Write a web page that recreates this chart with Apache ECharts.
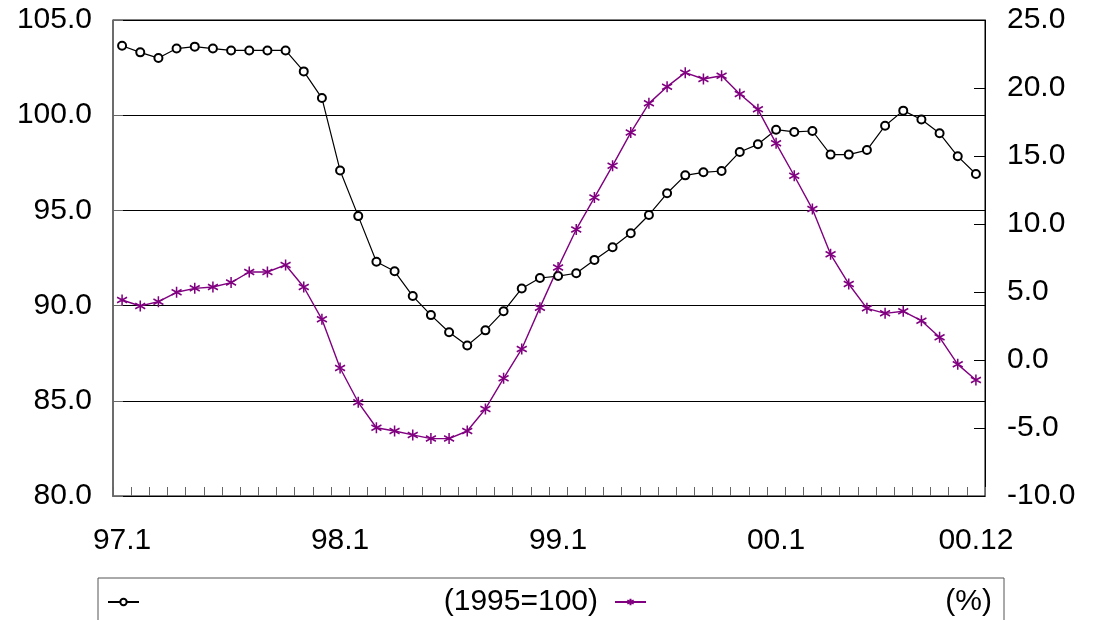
<!DOCTYPE html>
<html>
<head>
<meta charset="utf-8">
<script src="https://cdn.jsdelivr.net/npm/echarts@6/dist/echarts.min.js"></script>
<style>html,body{margin:0;padding:0;background:#fff;}#c{width:1100px;height:620px;}</style>
</head>
<body>
<div id="c"></div>
<script>
var categories = ['97.1','97.2','97.3','97.4','97.5','97.6','97.7','97.8','97.9','97.10','97.11','97.12',
  '98.1','98.2','98.3','98.4','98.5','98.6','98.7','98.8','98.9','98.10','98.11','98.12',
  '99.1','99.2','99.3','99.4','99.5','99.6','99.7','99.8','99.9','99.10','99.11','99.12',
  '00.1','00.2','00.3','00.4','00.5','00.6','00.7','00.8','00.9','00.10','00.11','00.12'];
var labeledCategories = ['97.1','98.1','99.1','00.1','00.12'];
var indexName = '(1995=100)';
var pctName = '(%)';
var indexValues = [103.65,103.3,103.0,103.5,103.6,103.5,103.4,103.4,103.4,103.4,
  102.3,100.9,97.1,94.7,92.3,91.8,90.5,89.5,88.6,87.9,
  88.7,89.7,90.9,91.45,91.55,91.7,92.4,93.06,93.8,94.76,
  95.9,96.84,97.0,97.07,98.07,98.47,99.24,99.12,99.17,97.93,
  97.93,98.17,99.45,100.24,99.77,99.05,97.84,96.91];
var pctValues = [4.41,3.97,4.29,4.98,5.27,5.37,5.69,6.47,6.47,6.99,
  5.37,2.99,-0.59,-3.11,-4.98,-5.22,-5.51,-5.78,-5.78,-5.22,
  -3.6,-1.35,0.81,3.85,6.81,9.6,11.94,14.29,16.72,18.87,
  20.1,21.13,20.66,20.9,19.56,18.43,15.93,13.55,11.1,7.77,
  5.59,3.8,3.43,3.58,2.89,1.67,-0.32,-1.47];
var leftTicks = {min: 80, max: 105, interval: 5};
var rightTicks = {min: -10, max: 25, interval: 5};

var FONT = "'Liberation Sans', Arial, sans-serif";
var FS = 30;
var PURPLE = '#800080';
var chart = echarts.init(document.getElementById('c'), null, {renderer: 'canvas'});
chart.setOption({
  animation: false,
  backgroundColor: '#fff',
  grid: {left: 113, right: 115, top: 20, bottom: 124, show: true, borderColor: '#000', borderWidth: 1, containLabel: false},
  legend: {
    left: 98, top: 578,
    padding: [9, 12, 12, 9],
    borderColor: '#555', borderWidth: 1,
    itemWidth: 31, itemHeight: 8, itemGap: 16,
    data: [indexName, pctName],
    formatter: function (n) { return (n === indexName ? '{a|' : '{b|') + n + '}'; },
    textStyle: {
      fontFamily: FONT, fontSize: FS, color: '#000',
      rich: {
        a: {width: 454, align: 'right', fontFamily: FONT, fontSize: FS, color: '#000'},
        b: {width: 341, align: 'right', fontFamily: FONT, fontSize: FS, color: '#000'}
      }
    }
  },
  xAxis: {
    type: 'category',
    data: categories,
    boundaryGap: true,
    axisLine: {show: true, onZero: false, lineStyle: {color: '#000', width: 1}},
    axisTick: {show: true, inside: true, length: 9, interval: 0, lineStyle: {color: '#666', width: 1}},
    axisLabel: {
      interval: function (i, v) { return labeledCategories.indexOf(v) >= 0; },
      margin: 30, fontFamily: FONT, fontSize: FS, color: '#000'
    },
    splitLine: {show: false}
  },
  yAxis: [
    {
      type: 'value', position: 'left',
      min: leftTicks.min, max: leftTicks.max, interval: leftTicks.interval,
      axisLine: {show: true, lineStyle: {color: '#666', width: 1.5}},
      axisTick: {show: true, inside: true, length: 10, lineStyle: {color: '#666'}},
      axisLabel: {margin: 21, fontFamily: FONT, fontSize: FS, color: '#000',
        formatter: function (v) { return v.toFixed(1); }},
      splitLine: {show: true, lineStyle: {color: '#000', width: 1}}
    },
    {
      type: 'value', position: 'right',
      min: rightTicks.min, max: rightTicks.max, interval: rightTicks.interval,
      axisLine: {show: true, lineStyle: {color: '#000', width: 1}},
      axisTick: {show: true, inside: true, length: 11, lineStyle: {color: '#000'}},
      axisLabel: {margin: 22, fontFamily: FONT, fontSize: FS, color: '#000',
        formatter: function (v) { return v.toFixed(1); }},
      splitLine: {show: false}
    }
  ],
  series: [
    {
      name: indexName, type: 'line', yAxisIndex: 0, data: indexValues,
      symbol: 'emptyCircle', symbolSize: 8, showAllSymbol: true,
      lineStyle: {color: '#000', width: 1.2},
      itemStyle: {color: '#000', borderColor: '#000', borderWidth: 1}
    },
    {
      name: pctName, type: 'line', yAxisIndex: 1, data: pctValues,
      symbol: 'path://M0,-1L0,1M-0.87,-0.5L0.87,0.5M-0.87,0.5L0.87,-0.5',
      symbolSize: [10, 11], showAllSymbol: true,
      lineStyle: {color: PURPLE, width: 1.4},
      itemStyle: {color: PURPLE, borderColor: PURPLE, borderWidth: 1.6}
    }
  ]
});
</script>
</body>
</html>
